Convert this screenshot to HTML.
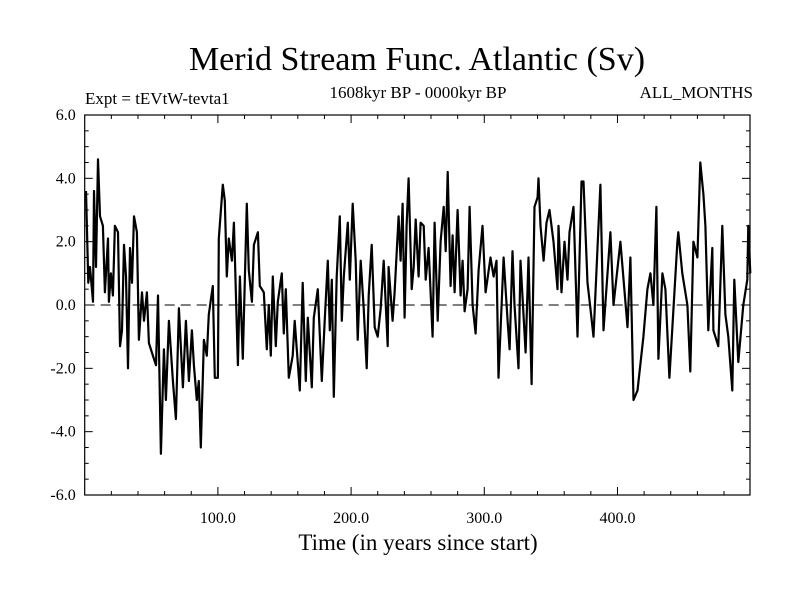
<!DOCTYPE html>
<html><head><meta charset="utf-8"><style>
body{margin:0;background:#fff;}
svg text{font-family:"Liberation Serif",serif;fill:#000;}
</style></head><body>
<svg id="chart" width="800" height="600" viewBox="0 0 800 600" xmlns="http://www.w3.org/2000/svg">
<text x="417" y="70" font-size="34" text-anchor="middle">Merid Stream Func. Atlantic (Sv)</text>
<text x="85" y="104" font-size="17">Expt = tEVtW-tevta1</text>
<text x="418" y="98" font-size="17" text-anchor="middle">1608kyr BP - 0000kyr BP</text>
<text x="753" y="98" font-size="17" text-anchor="end">ALL_MONTHS</text>
<text x="418" y="550" font-size="23" text-anchor="middle">Time (in years since start)</text>
<g id="axes"></g>
<g id="series"></g>
</svg>
<script>
const years=[1.0,2.7,4.0,6.2,7.0,8.5,10.0,11.5,13.7,15.2,17.5,18.2,19.7,21.2,22.7,25.0,26.5,28.0,29.5,31.0,32.5,34.0,35.5,37.0,39.2,40.7,43.0,44.5,46.7,48.2,51.2,53.5,55.0,57.2,59.5,61.0,63.2,66.2,68.5,70.7,73.7,76.0,78.2,80.5,82.0,84.2,85.7,87.2,89.5,91.7,93.2,96.2,97.7,100.0,100.7,103.7,105.2,106.7,108.2,110.5,112.0,115.0,116.5,118.7,121.7,123.2,125.5,127.0,130.0,131.5,134.5,136.7,138.2,139.7,141.2,143.5,145.0,148.0,149.5,151.0,153.2,156.2,157.7,161.5,163.7,166.0,167.5,170.5,172.0,175.0,178.0,180.2,182.5,184.0,185.5,187.0,189.2,191.5,193.0,194.5,197.5,199.0,201.2,203.5,205.0,207.2,209.5,211.7,213.2,215.5,217.7,220.0,222.2,224.5,227.5,228.2,231.2,232.7,235.7,237.2,238.7,240.2,241.7,243.2,245.5,247.0,248.5,250.7,252.2,254.5,256.0,258.2,261.2,262.7,265.0,267.2,269.5,271.0,272.5,274.7,276.2,277.7,280.0,282.2,283.7,285.2,287.5,289.0,291.2,293.5,295.7,298.7,301.0,304.7,307.0,309.2,310.7,313.0,314.5,317.5,319.0,321.2,322.7,325.7,327.2,331.0,333.2,335.5,337.7,340.0,340.7,342.2,344.5,346.7,349.0,352.0,355.0,355.7,358.0,360.2,362.5,364.0,367.0,370.0,373.0,374.5,377.5,379.7,382.0,385.0,387.2,389.5,394.7,397.0,402.2,407.5,409.7,412.0,415.0,419.5,422.5,424.7,427.0,429.2,430.7,433.7,436.0,439.0,445.0,445.7,448.7,452.5,454.7,457.0,460.0,462.2,464.5,466.0,468.2,471.2,472.0,475.7,478.7,481.0,483.2,486.2,487.7,490.7,494.5,497.5,498.2,499.7];
const values=[3.6,0.7,1.2,0.1,3.6,1.2,4.6,2.8,2.5,0.4,2.1,0.1,1.0,0.3,2.5,2.3,-1.3,-0.8,1.9,0.9,-2.0,1.8,0.7,2.8,2.3,-1.1,0.4,-0.5,0.4,-1.2,-1.6,-1.9,0.3,-4.7,-1.4,-3.0,-0.5,-2.4,-3.6,-0.1,-2.6,-0.5,-2.4,-0.8,-1.9,-3.0,-2.4,-4.5,-1.1,-1.6,-0.3,0.6,-2.3,-2.3,2.1,3.8,3.3,0.9,2.1,1.4,2.6,-1.9,0.9,-1.7,3.2,1.1,0.1,1.9,2.3,0.6,0.4,-1.4,0.0,-1.6,0.9,-1.3,0.1,1.0,-0.9,0.5,-2.3,-1.6,-0.5,-2.7,0.7,-2.4,-0.4,-2.6,-0.4,0.5,-2.4,-0.5,1.4,-0.8,0.8,-2.9,0.9,2.8,-0.5,0.9,2.6,0.8,3.2,1.4,-1.1,1.4,-0.1,-2.0,0.3,1.9,-0.7,-1.0,-0.1,1.4,-1.3,1.2,-0.5,0.4,2.8,1.4,3.2,-0.4,2.5,4.0,0.5,1.2,2.7,0.9,2.6,2.5,0.8,1.8,-1.0,2.6,-0.5,2.0,3.1,1.7,4.2,0.6,2.2,0.4,3.0,0.3,1.4,-0.2,0.5,3.1,0.0,-0.9,1.1,2.5,0.4,1.5,0.9,1.4,-2.3,0.0,1.5,-0.5,-1.4,1.7,0.0,-2.0,1.4,-1.5,1.5,-2.5,3.1,3.4,4.0,2.5,1.4,2.6,3.0,2.0,0.5,2.5,0.4,2.0,0.8,2.3,3.1,-1.0,3.9,3.9,0.7,-0.1,-1.0,1.8,3.8,-0.8,2.3,0.0,2.0,-0.7,1.5,-3.0,-2.7,-1.0,0.5,1.0,0.0,3.1,-1.7,1.0,0.5,-2.3,2.0,2.3,1.0,0.0,-2.1,2.0,1.5,4.5,3.5,2.5,-0.8,1.8,-0.8,-1.3,2.5,-0.3,-1.0,-2.7,0.8,-1.8,0.0,0.8,2.5,1.0];
const yTicks=[-6,-4,-2,0,2,4,6];
const yTickLabels=["-6.0","-4.0","-2.0","0.0","2.0","4.0","6.0"];
const xTicks=[100,200,300,400];
const xTickLabels=["100.0","200.0","300.0","400.0"];

const L=84.7,R=750,T=115,B=495,X0=0,X1=499.5,Y0=-6,Y1=6;
const sx=v=>L+(v-X0)/(X1-X0)*(R-L);
const sy=v=>B-(v-Y0)/(Y1-Y0)*(B-T);
const NS="http://www.w3.org/2000/svg";
const axes=document.getElementById('axes');
function mk(tag,attrs,parent){const e=document.createElementNS(NS,tag);for(const k in attrs)e.setAttribute(k,attrs[k]);parent.appendChild(e);return e;}

const frame=mk('rect',{x:L,y:T,width:R-L,height:B-T,fill:'none',stroke:'#000','stroke-width':1.2},axes);



const zero=mk('line',{x1:L,x2:R,y1:sy(0),y2:sy(0),stroke:'#000','stroke-width':1,'stroke-dasharray':'10,6'},axes);



for(let v=-6;v<=6.001;v+=0.5){
  const major=Math.abs(v-Math.round(v/2)*2)<1e-6;
  const len=major?8:4;
  const t1=mk('line',{x1:L,x2:L+len,y1:sy(v),y2:sy(v),stroke:'#000','stroke-width':1},axes);
  
  
  const t2=mk('line',{x1:R,x2:R-len,y1:sy(v),y2:sy(v),stroke:'#000','stroke-width':1},axes);
  
  
}
yTicks.forEach((v,i)=>{
  const t=mk('text',{x:L-9,y:sy(v)+5,'font-size':16,'text-anchor':'end'},axes);
  t.textContent=yTickLabels[i];
  
  
});
for(let v=20;v<X1;v+=20){
  const major=v%100===0;
  const len=major?8:4;
  const t1=mk('line',{x1:sx(v),x2:sx(v),y1:B,y2:B-len,stroke:'#000','stroke-width':1},axes);
  
  
  const t2=mk('line',{x1:sx(v),x2:sx(v),y1:T,y2:T+len,stroke:'#000','stroke-width':1},axes);
  
  
}
xTicks.forEach((v,i)=>{
  const t=mk('text',{x:sx(v),y:523,'font-size':16,'text-anchor':'middle'},axes);
  t.textContent=xTickLabels[i];
  
  
});

const pts=years.map((y,i)=>sx(y).toFixed(1)+','+sy(values[i]).toFixed(1)).join(' ');
const line=mk('polyline',{points:pts,fill:'none',stroke:'#000','stroke-width':2.2,'stroke-linejoin':'round'},document.getElementById('series'));


</script>
</body></html>
